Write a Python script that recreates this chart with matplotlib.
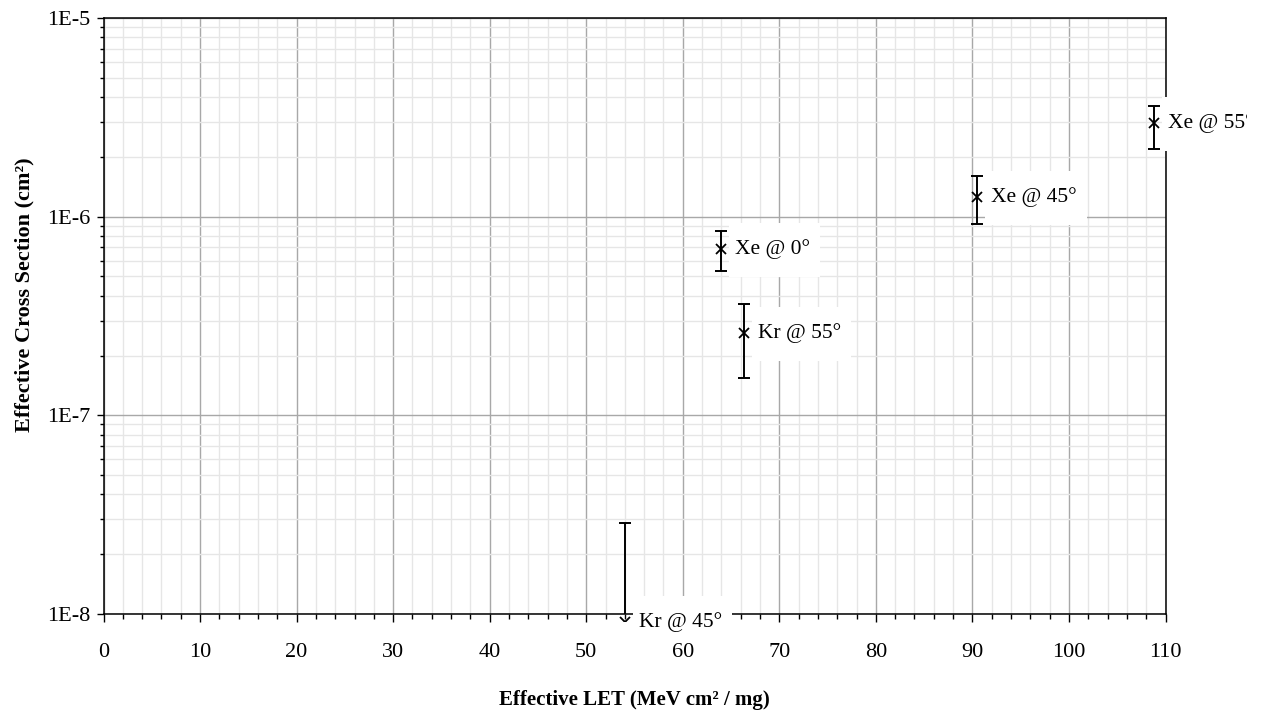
import numpy as np
import matplotlib.pyplot as plt
from matplotlib.ticker import FixedLocator, MultipleLocator, FuncFormatter, LogLocator, NullFormatter
from matplotlib.patches import Rectangle
from matplotlib.transforms import Bbox, IdentityTransform

plt.rcParams['font.family'] = ['Liberation Serif', 'DejaVu Serif']

# data
labels = ['Kr @ 45°', 'Kr @ 55°', 'Xe @ 0°', 'Xe @ 45°', 'Xe @ 55°']
let = np.array([54.0, 66.3, 64.0, 90.5, 108.8])            # MeV cm2/mg
sigma = np.array([9.1e-9, 2.6e-7, 6.9e-7, 1.26e-6, 2.95e-6])  # cm2
sigma_lo = np.array([9.1e-9, 1.55e-7, 5.35e-7, 9.2e-7, 2.2e-6])
sigma_hi = np.array([2.86e-8, 3.65e-7, 8.5e-7, 1.6e-6, 3.6e-6])

xRange = (0, 110)
yRange = (1e-8, 1e-5)
yTicks = [1e-8, 1e-7, 1e-6, 1e-5]

W, H = 1264, 719
fig = plt.figure(figsize=(W / 100, H / 100), dpi=100)
ax = fig.add_axes([103.5 / W, 105 / H, 1062 / W, 596 / H])
ax.set_yscale('log')
ax.set_xlim(*xRange)
ax.set_ylim(*yRange)

ax.xaxis.set_major_locator(MultipleLocator(10))
ax.xaxis.set_minor_locator(MultipleLocator(2))
ax.yaxis.set_major_locator(FixedLocator(yTicks))
ax.yaxis.set_minor_locator(LogLocator(base=10, subs=range(2, 10)))
ax.yaxis.set_minor_formatter(NullFormatter())
ax.yaxis.set_major_formatter(FuncFormatter(lambda v, p: f"1E{int(round(np.log10(v)))}"))

ax.grid(which='major', color='#a8a8a8', lw=1.0)
ax.grid(which='minor', color='#e6e6e6', lw=1.0)
ax.set_axisbelow(True)

ax.tick_params(axis='x', which='major', length=5.8, width=1, pad=15, labelsize=16)
ax.tick_params(axis='x', which='minor', length=3.6, width=1)
ax.tick_params(axis='y', which='major', length=4.7, width=1, pad=5, labelsize=16)
ax.tick_params(axis='y', which='minor', length=3.0, width=1)
for s in ax.spines.values():
    s.set_linewidth(1.1)

# error bars and markers
ax.errorbar(let, sigma, yerr=[sigma - sigma_lo, sigma_hi - sigma], fmt='none',
            ecolor='k', elinewidth=1.4, capsize=4, capthick=1.4, zorder=3)
mk, = ax.plot(let, sigma, 'x', color='k', ms=7, mew=1.3, zorder=3)
mk.set_clip_path(None)
mk.set_clip_box(Bbox([[103.5, 98], [1165.5, 701]]))

# point labels with white boxes
clip = Bbox([[0, 81], [1247, H]])
renderer = fig.canvas.get_renderer()
pts = ax.transData.transform(np.column_stack([let, sigma]))
for (px, py), lab in zip(pts, labels):
    t = fig.text(px + 14, py, lab, transform=IdentityTransform(), fontsize=15.5,
                 ha='left', va='center', zorder=5)
    t.set_clip_box(clip)
    t.set_clip_on(True)
    ext = t.get_window_extent(renderer)
    r = Rectangle((ext.x0 - 6, py - 28), ext.width + 16, 54, transform=IdentityTransform(),
                  facecolor='white', edgecolor='none', zorder=4)
    fig.add_artist(r)
    r.set_clip_box(clip)
    r.set_clip_on(True)

fig.text(634.5 / W, 19 / H, 'Effective LET (MeV cm² / mg)', fontsize=15,
         fontweight='bold', ha='center', va='center')
fig.text(24 / W, 424 / H, 'Effective Cross Section (cm²)', fontsize=16,
         fontweight='bold', ha='center', va='center', rotation=90)

fig.savefig('out.png', dpi=100)
